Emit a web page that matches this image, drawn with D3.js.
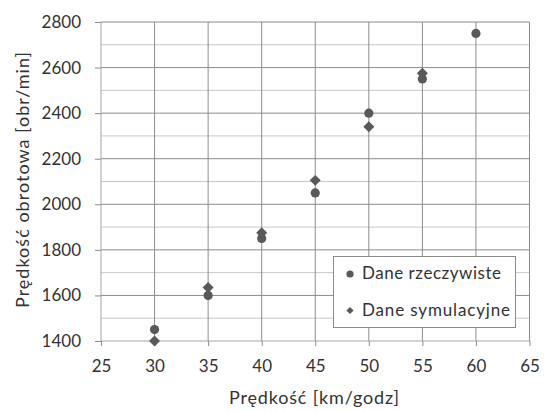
<!DOCTYPE html>
<html><head><meta charset="utf-8">
<script src="https://cdnjs.cloudflare.com/ajax/libs/d3/7.8.5/d3.min.js"></script>
<style>body{margin:0;background:#fff}svg{display:block}</style>
</head><body>
<script>
const xReal = [30,35,40,45,50,55,60];
const yReal = [1450,1600,1850,2050,2400,2550,2750];
const xSim = [30,35,40,45,50,55];
const ySim = [1400,1635,1875,2105,2340,2575];
const xTicks = [25,30,35,40,45,50,55,60,65];
const yTicks = [1400,1600,1800,2000,2200,2400,2600,2800];
const yMinor = [1500,1700,1900,2100,2300,2500,2700];
const seriesNames = ["Dane rzeczywiste","Dane symulacyjne"];

const W=547,H=411;
const m={l:101,t:22,r:529.5,b:341};
const svg=d3.select("body").append("svg").attr("width",W).attr("height",H);
const x=d3.scaleLinear().domain([25,65]).range([m.l,m.r]);
const y=d3.scaleLinear().domain([1400,2800]).range([m.b,m.t]);
const font="Lato, 'Open Sans', sans-serif";
const txt="#333333";

svg.append("g").selectAll("line").data(yMinor).join("line")
 .attr("x1",m.l).attr("x2",m.r).attr("y1",d=>y(d)).attr("y2",d=>y(d))
 .attr("stroke","#c8c8c8").attr("stroke-width",1);
svg.append("g").selectAll("line").data(yTicks.slice(1)).join("line")
 .attr("x1",m.l).attr("x2",m.r).attr("y1",d=>y(d)).attr("y2",d=>y(d))
 .attr("stroke","#8c8c8c").attr("stroke-width",1);
svg.append("g").selectAll("line").data(xTicks.slice(1)).join("line")
 .attr("y1",m.t).attr("y2",m.b).attr("x1",d=>x(d)).attr("x2",d=>x(d))
 .attr("stroke","#8c8c8c").attr("stroke-width",1);

const yAxis=d3.axisLeft(y).tickValues(yTicks).tickSize(6).tickPadding(14).tickFormat(d3.format("d"));
const gy=svg.append("g").attr("transform",`translate(${m.l},0)`).call(yAxis);
const xAxis=d3.axisBottom(x).tickValues(xTicks).tickSize(5).tickPadding(14).tickFormat(d3.format("d"));
const gx=svg.append("g").attr("transform",`translate(0,${m.b})`).call(xAxis);
[gx,gy].forEach(g=>{
 g.select(".domain").attr("stroke","#a6a6a6");
 g.selectAll(".tick line").attr("stroke","#8c8c8c");
 g.selectAll("text").attr("font-family",font).attr("font-size",17).attr("fill",txt);
});
gy.select(".domain").attr("d",`M0,${m.b}V${m.t}`);
gx.select(".domain").attr("d",`M${m.l},0H${m.r}`);

const col="#595959";
svg.append("g").selectAll("path").data(xSim.map((v,i)=>[v,ySim[i]])).join("path")
 .attr("d",d3.symbol(d3.symbolSquare,60)).attr("transform",d=>`translate(${x(d[0])},${y(d[1])}) rotate(45)`).attr("fill",col);
svg.append("g").selectAll("circle").data(xReal.map((v,i)=>[v,yReal[i]])).join("circle")
 .attr("cx",d=>x(d[0])).attr("cy",d=>y(d[1])).attr("r",4.6).attr("fill",col);

const lg=svg.append("g");
lg.append("rect").attr("x",333.5).attr("y",256.5).attr("width",182).attr("height",71)
 .attr("fill","#fff").attr("stroke","#8c8c8c");
lg.append("circle").attr("cx",350).attr("cy",274).attr("r",3.6).attr("fill",col);
lg.append("path").attr("d",d3.symbol(d3.symbolSquare,26)).attr("transform","translate(350,310.5) rotate(45)").attr("fill",col);
const legLens=[139,148];
lg.selectAll("text").data(seriesNames).join("text")
 .attr("x",362).attr("y",(d,i)=>279+i*37)
 .attr("textLength",(d,i)=>legLens[i]).attr("lengthAdjust","spacing")
 .attr("font-family",font).attr("font-size",17).attr("fill",txt).text(d=>d);

svg.append("text").attr("x",314).attr("y",404).attr("text-anchor","middle")
 .attr("textLength",170).attr("lengthAdjust","spacing")
 .attr("font-family",font).attr("font-size",18).attr("fill",txt).text("Prędkość [km/godz]");
svg.append("text").attr("transform","translate(29,180) rotate(-90)").attr("text-anchor","middle")
 .attr("textLength",256).attr("lengthAdjust","spacing")
 .attr("font-family",font).attr("font-size",18).attr("fill",txt).text("Prędkość obrotowa [obr/min]");
</script>
</body></html>
